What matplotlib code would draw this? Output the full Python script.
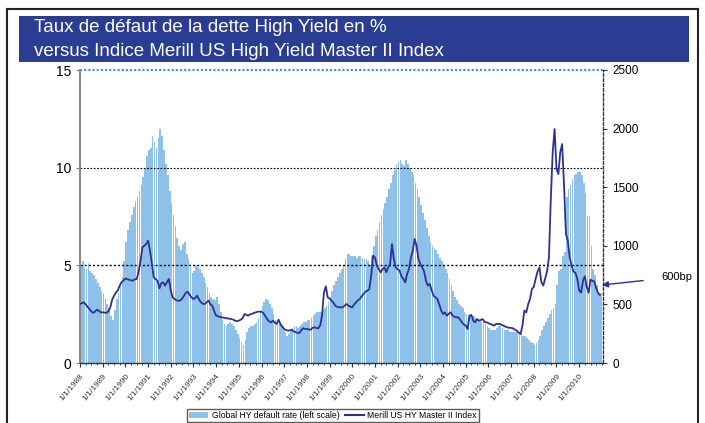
import matplotlib
matplotlib.use("Agg")
import matplotlib.pyplot as plt
from matplotlib.patches import Rectangle
from matplotlib.lines import Line2D
from matplotlib.patches import Patch
import numpy as np

# Global HY default rate, % (monthly, Jan..Dec for each year)
default_rate = {
    1988: [5.0, 5.2, 4.9, 4.8, 5.1, 4.7, 4.6, 4.5, 4.3, 4.1, 3.9, 3.7],
    1989: [3.6, 3.3, 3.0, 2.8, 2.4, 2.2, 2.7, 3.3, 3.6, 4.0, 4.4, 5.2],
    1990: [6.2, 6.8, 7.2, 7.6, 8.0, 8.3, 8.5, 8.8, 9.1, 9.5, 10.0, 10.6],
    1991: [10.9, 11.0, 11.6, 11.3, 11.0, 11.5, 12.0, 11.6, 10.9, 10.2, 9.6, 8.8],
    1992: [8.2, 7.6, 7.0, 6.4, 6.0, 5.8, 6.1, 6.2, 5.6, 5.3, 4.9, 4.6],
    1993: [4.7, 5.0, 4.9, 4.8, 4.6, 4.4, 4.1, 3.9, 3.6, 3.4, 3.3, 3.2],
    1994: [3.4, 3.0, 2.6, 2.2, 2.0, 1.9, 2.0, 2.1, 2.0, 1.9, 1.7, 1.5],
    1995: [1.3, 1.1, 0.9, 1.2, 1.6, 1.8, 1.9, 1.9, 2.0, 2.1, 2.3, 2.6],
    1996: [2.9, 3.1, 3.3, 3.2, 3.0, 2.8, 2.5, 2.2, 2.1, 2.1, 2.0, 1.9],
    1997: [1.6, 1.4, 1.5, 1.7, 1.8, 1.9, 1.9, 1.8, 1.9, 2.0, 2.1, 2.1],
    1998: [2.2, 2.2, 2.3, 2.4, 2.5, 2.6, 2.6, 2.6, 2.7, 2.8, 2.9, 3.1],
    1999: [3.4, 3.7, 4.0, 4.2, 4.4, 4.6, 4.8, 5.0, 5.3, 5.6, 5.6, 5.5],
    2000: [5.5, 5.5, 5.4, 5.5, 5.5, 5.4, 5.3, 5.3, 5.2, 5.0, 5.5, 6.0],
    2001: [6.5, 6.8, 7.2, 7.6, 7.9, 8.2, 8.5, 8.9, 9.2, 9.6, 9.9, 10.2],
    2002: [10.3, 10.4, 10.2, 10.1, 10.4, 10.2, 10.0, 9.8, 9.6, 9.2, 8.9, 8.5],
    2003: [8.1, 7.7, 7.3, 6.9, 6.5, 6.2, 6.0, 5.9, 5.8, 5.6, 5.4, 5.2],
    2004: [5.0, 4.8, 4.6, 4.3, 4.0, 3.7, 3.4, 3.2, 3.0, 2.9, 2.8, 2.6],
    2005: [2.5, 2.4, 2.4, 2.3, 2.4, 2.3, 2.2, 2.2, 2.1, 2.1, 2.0, 1.9],
    2006: [1.8, 1.7, 1.7, 1.7, 1.8, 1.9, 1.9, 1.8, 1.7, 1.7, 1.7, 1.6],
    2007: [1.6, 1.6, 1.6, 1.6, 1.5, 1.5, 1.4, 1.4, 1.3, 1.2, 1.1, 1.0],
    2008: [0.9, 1.0, 1.2, 1.4, 1.7, 1.9, 2.1, 2.3, 2.5, 2.7, 2.8, 3.0],
    2009: [4.0, 4.7, 4.8, 5.5, 5.7, 8.5, 8.9, 9.1, 9.4, 9.6, 9.7, 9.8],
    2010: [9.8, 9.6, 9.2, 8.7, 7.5, 7.5, 6.0, 4.8, 4.5, 4.0, 3.6, 3.6],
}

# Merrill US HY Master II Index spread, bp (monthly)
hy_index = {
    1988: [503, 510, 518, 500, 480, 460, 440, 427, 440, 455, 445, 432],
    1989: [432, 430, 427, 440, 475, 540, 574, 600, 620, 660, 690, 705],
    1990: [722, 715, 711, 705, 702, 715, 717, 780, 870, 987, 1000, 1015],
    1991: [1044, 960, 850, 731, 715, 702, 637, 680, 688, 660, 690, 717],
    1992: [617, 560, 546, 535, 532, 532, 550, 574, 600, 609, 580, 560],
    1993: [546, 555, 574, 540, 518, 505, 503, 520, 532, 500, 489, 440],
    1994: [404, 400, 392, 390, 386, 382, 381, 378, 375, 370, 361, 358],
    1995: [361, 370, 381, 418, 410, 404, 415, 420, 427, 432, 438, 438],
    1996: [438, 425, 400, 375, 355, 347, 361, 345, 333, 370, 333, 310],
    1997: [290, 280, 276, 280, 284, 270, 262, 258, 256, 280, 296, 290],
    1998: [290, 286, 284, 300, 304, 298, 296, 320, 404, 600, 654, 560],
    1999: [550, 532, 515, 489, 480, 475, 475, 475, 490, 503, 489, 480],
    2000: [475, 500, 518, 535, 546, 570, 589, 610, 617, 631, 745, 916],
    2001: [901, 830, 802, 774, 800, 816, 774, 816, 845, 1015, 887, 816],
    2002: [800, 788, 740, 717, 688, 760, 802, 900, 958, 1058, 1001, 887],
    2003: [845, 816, 780, 700, 660, 674, 620, 574, 560, 546, 500, 450],
    2004: [418, 432, 404, 420, 432, 404, 395, 390, 390, 370, 347, 330],
    2005: [319, 290, 404, 410, 360, 347, 375, 361, 368, 375, 350, 347],
    2006: [340, 333, 325, 319, 333, 333, 333, 325, 319, 310, 304, 300],
    2007: [300, 296, 285, 276, 260, 247, 319, 447, 432, 500, 546, 631],
    2008: [650, 720, 780, 816, 690, 660, 720, 780, 900, 1400, 1800, 1996],
    2009: [1655, 1612, 1800, 1868, 1513, 1100, 1044, 900, 830, 780, 770, 720],
    2010: [620, 600, 700, 740, 650, 600, 711, 700, 697, 640, 597, 580],
}

years = list(range(1988, 2011))
tick_labels = ["1/1/%d" % y for y in years]

bar_color = "#8DC1EA"
line_color = "#2E3192"
band_color = "#2B3D93"

t = []
rate = []
idx = []
for y in years:
    for m in range(12):
        t.append(y + m / 12.0)
        rate.append(default_rate[y][m])
        idx.append(hy_index[y][m])
t = np.array(t)

fig = plt.figure(figsize=(7.05, 4.23), dpi=100)
fig.patch.set_facecolor("white")

# outer frame + title band
fig.add_artist(Line2D([7/705, 7/705], [0, 1 - 9/423], transform=fig.transFigure, color="#222222", lw=1.5))
fig.add_artist(Line2D([7/705, 698/705], [1 - 9/423, 1 - 9/423], transform=fig.transFigure, color="#222222", lw=1.5))
fig.add_artist(Line2D([698/705, 698/705], [0, 1 - 9/423], transform=fig.transFigure, color="#222222", lw=1.5))
fig.add_artist(Rectangle((19/705, 1 - 62/423), 670/705, 46/423, transform=fig.transFigure,
                         facecolor=band_color, edgecolor="none"))
fig.text(34/705, 1 - 27/423, "Taux de défaut de la dette High Yield en %", color="white",
         fontsize=13.5, family="Liberation Sans", va="center", ha="left")
fig.text(34/705, 1 - 51/423, "versus Indice Merill US High Yield Master II Index", color="white",
         fontsize=13.5, family="Liberation Sans", va="center", ha="left")

ax = fig.add_axes([80/705, 1 - 363/423, 523/705, 293/423])
ax.bar(t, rate, width=0.072, align="edge", color=bar_color, linewidth=0, zorder=1)
ax.set_ylim(0, 15)
ax.set_xlim(1988, 2011.05)
ax.set_yticks([0, 5, 10, 15])
ax.tick_params(axis="y", labelsize=10, length=3, color="#808080")
for lab in ax.get_yticklabels():
    lab.set_family("Liberation Sans")
ax.axhline(5, color="black", lw=1, ls=(0, (1.5, 1.5)), zorder=2)
ax.axhline(10, color="black", lw=0.8, ls=(0, (1.5, 1.5)), zorder=2)
ax.axhline(15, color="#3A8FD8", lw=1.5, ls=(0, (1, 1)), zorder=2, clip_on=False)

ax.set_xticks(years)
ax.set_xticklabels(tick_labels, rotation=50, ha="right", va="top", rotation_mode="anchor",
                   fontsize=6, family="Liberation Sans")
ax.set_xticks(np.arange(1988, 2011.05, 0.25), minor=True)
ax.tick_params(axis="x", which="major", length=3, pad=4, color="#333333")
ax.tick_params(axis="x", which="minor", length=1.5, color="#333333")
for lab in ax.get_xticklabels():
    lab.set_color("#333333")

ax.spines["top"].set_visible(False)
ax.spines["right"].set_visible(False)
ax.spines["left"].set_color("#8A8A8A")
ax.spines["left"].set_linewidth(1.5)
ax.spines["bottom"].set_color("#333333")
ax.spines["bottom"].set_linewidth(1.0)
ax.spines["bottom"].set_linestyle((0, (1, 1)))

ax2 = ax.twinx()
ax2.plot(t, idx, color=line_color, lw=1.3, zorder=3)
ax2.set_ylim(0, 2500)
ax2.set_yticks([0, 500, 1000, 1500, 2000, 2500])
ax2.tick_params(axis="y", labelsize=8.5, length=3, color="#333333")
for lab in ax2.get_yticklabels():
    lab.set_family("Liberation Sans")
for s in ["top", "left", "bottom"]:
    ax2.spines[s].set_visible(False)
ax2.spines["right"].set_linestyle((0, (2, 1.5)))
ax2.spines["right"].set_color("#333333")
ax2.spines["right"].set_linewidth(1.0)

ax2.annotate("600bp", xy=(2011.0, 665), xytext=(2014.3, 735), textcoords="data",
             fontsize=8, family="Liberation Sans", ha="center", va="center",
             annotation_clip=False,
             arrowprops=dict(arrowstyle="-|>", color=line_color, lw=1.0, mutation_scale=9,
                             shrinkA=11, shrinkB=0))

handles = [Patch(facecolor=bar_color, edgecolor="none"),
           Line2D([0], [0], color=line_color, lw=1.5)]
fig.legend(handles, ["Global HY default rate (left scale)", "Merill US HY Master II Index"],
           loc="upper center", bbox_to_anchor=(333/705, 1 - 409/423), ncol=2,
           prop={"family": "Liberation Sans", "size": 6.2},
           frameon=True, fancybox=False, edgecolor="#333333", borderaxespad=0,
           handlelength=2.2, columnspacing=0.6, handletextpad=0.4, borderpad=0.25)

fig.savefig("out.png", dpi=100, facecolor="white")
